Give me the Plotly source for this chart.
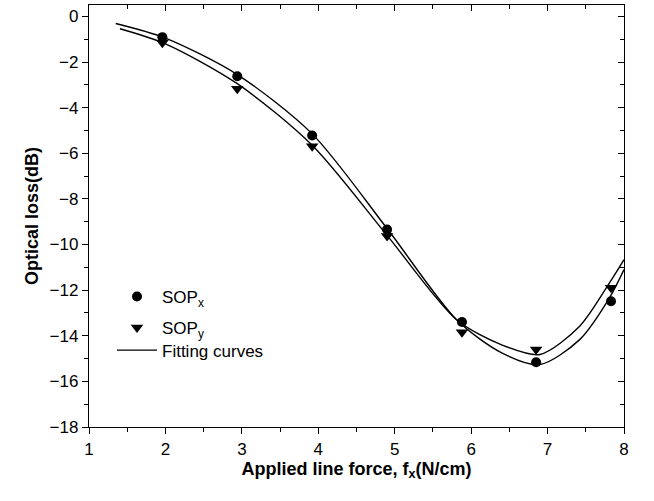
import plotly.graph_objects as go

# Measured data
force = [1.96, 2.94, 3.92, 4.90, 5.88, 6.85, 7.83]
sop_x = [-0.91, -2.62, -5.22, -9.34, -13.40, -15.16, -12.49]
sop_y = [-1.15, -3.17, -5.69, -9.63, -13.85, -14.60, -11.90]

# Fitting curves
fit_x_force = [1.35, 2.0, 2.94, 3.92, 4.9, 5.81, 6.4, 6.9, 7.42, 7.81, 8.0]
fit_x_loss = [-0.31, -0.95, -2.55, -5.15, -9.3, -13.3, -14.75, -15.26, -14.17, -12.34, -11.1]
fit_y_force = [1.405, 2.0, 2.94, 3.92, 4.9, 5.81, 6.4, 6.9, 7.42, 7.81, 8.0]
fit_y_loss = [-0.54, -1.2, -2.95, -5.65, -9.6, -13.3, -14.4, -14.82, -13.58, -11.68, -10.66]

x_ticks = [1, 2, 3, 4, 5, 6, 7, 8]
y_ticks = [-18, -16, -14, -12, -10, -8, -6, -4, -2, 0]

FONT = "Liberation Sans, Arial, sans-serif"

fig = go.Figure()
fig.add_trace(go.Scatter(x=fit_x_force, y=fit_x_loss, mode="lines",
                         line=dict(color="black", width=1.4, shape="spline", smoothing=0.8),
                         name="Fitting curves", legend="legend3", showlegend=True))
fig.add_trace(go.Scatter(x=fit_y_force, y=fit_y_loss, mode="lines",
                         line=dict(color="black", width=1.4, shape="spline", smoothing=0.8),
                         showlegend=False))
fig.add_trace(go.Scatter(x=force, y=sop_x, mode="markers",
                         marker=dict(symbol="circle", size=10, color="black"),
                         name="SOP<sub>x</sub>", legend="legend"))
fig.add_trace(go.Scatter(x=force, y=sop_y, mode="markers",
                         marker=dict(symbol="triangle-down", size=11, color="black"),
                         name="SOP<sub>y</sub>", legend="legend2"))
# invisible trace to carry the mirrored (inside-tick) axes
fig.add_trace(go.Scatter(x=force, y=sop_x, mode="markers", xaxis="x2", yaxis="y2",
                         marker=dict(opacity=0), showlegend=False, hoverinfo="skip"))

axis_common = dict(showline=True, linecolor="black", linewidth=1.3, showgrid=False,
                   zeroline=False, tickcolor="black", tickwidth=1.2)

fig.update_layout(
    width=654, height=501,
    margin=dict(l=89, r=30, t=5, b=74),
    plot_bgcolor="white", paper_bgcolor="white",
    font=dict(family=FONT, size=17, color="black"),
    xaxis=dict(range=[1, 8], tickvals=x_ticks, ticks="outside", ticklen=6,
               tickfont=dict(size=17),
               minor=dict(dtick=0.5, ticks="outside", ticklen=4, tickcolor="black"),
               title=dict(text="<b>Applied line force, f<sub>x</sub>(N/cm)</b>",
                          font=dict(size=18), standoff=4),
               **axis_common),
    yaxis=dict(range=[-18, 0.5], tickvals=y_ticks, ticks="outside", ticklen=6,
               tickfont=dict(size=17),
               minor=dict(dtick=1, ticks="outside", ticklen=4, tickcolor="black"),
               title=dict(text="<b>Optical loss(dB)</b>", font=dict(size=18), standoff=6),
               **axis_common),
    xaxis2=dict(range=[1, 8], overlaying="x", side="top", tickvals=x_ticks,
                ticks="inside", ticklen=6, showticklabels=False,
                minor=dict(dtick=0.5, ticks="inside", ticklen=4, tickcolor="black"),
                **axis_common),
    yaxis2=dict(range=[-18, 0.5], overlaying="y", side="right", tickvals=y_ticks,
                ticks="inside", ticklen=6, showticklabels=False,
                minor=dict(dtick=1, ticks="inside", ticklen=4, tickcolor="black"),
                **axis_common),
    legend=dict(x=0.043, y=0.308, xanchor="left", yanchor="middle",
                bgcolor="rgba(0,0,0,0)", font=dict(size=17), itemwidth=40),
    legend2=dict(x=0.043, y=0.235, xanchor="left", yanchor="middle",
                 bgcolor="rgba(0,0,0,0)", font=dict(size=17), itemwidth=40),
    legend3=dict(x=0.043, y=0.181, xanchor="left", yanchor="middle",
                 bgcolor="rgba(0,0,0,0)", font=dict(size=17), itemwidth=40),
)

fig.write_html("out.html")
